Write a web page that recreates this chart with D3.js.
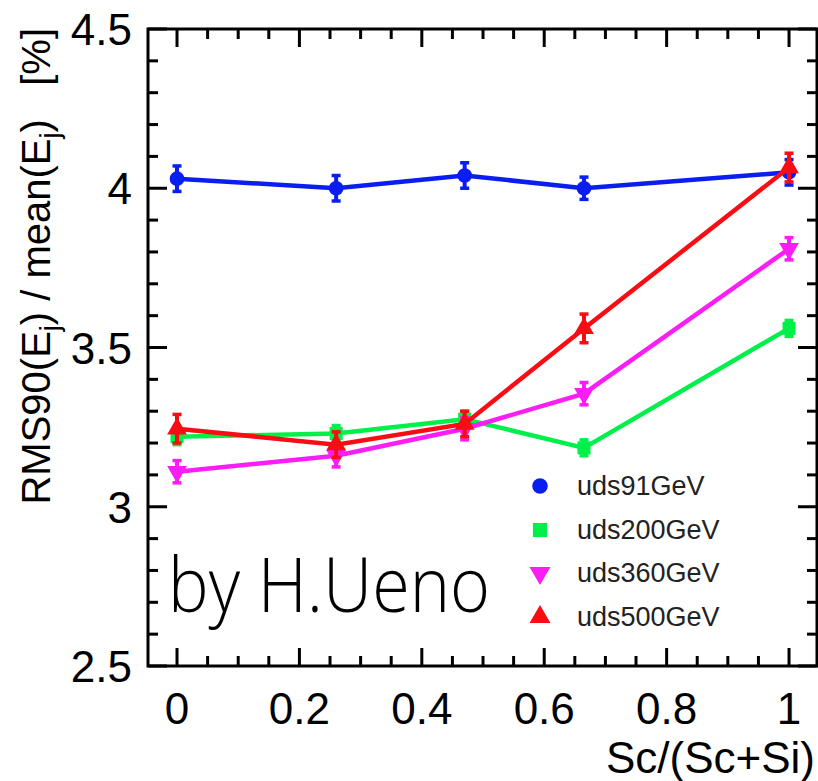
<!DOCTYPE html>
<html><head><meta charset="utf-8">
<script src="https://cdn.jsdelivr.net/npm/d3@7"></script>
<style>html,body{margin:0;padding:0;background:#fff;}svg{display:block;}</style>
</head><body>
<svg id="c" width="818" height="781"></svg>
<script>
const xValues = [0, 0.26, 0.47, 0.665, 1];
const seriesNames = ["uds91GeV", "uds200GeV", "uds360GeV", "uds500GeV"];
const blueValues = [4.03, 4.00, 4.04, 4.00, 4.05];
const blueErrors = [0.04, 0.04, 0.04, 0.035, 0.04];
const greenValues = [3.22, 3.23, 3.275, 3.185, 3.56];
const greenErrors = [0.025, 0.025, 0.025, 0.025, 0.025];
const magentaValues = [3.11, 3.16, 3.245, 3.355, 3.81];
const magentaErrors = [0.035, 0.035, 0.035, 0.035, 0.035];
const redValues = [3.245, 3.195, 3.26, 3.56, 4.065];
const redErrors = [0.045, 0.04, 0.04, 0.045, 0.045];
const xTickLabels = ["0", "0.2", "0.4", "0.6", "0.8", "1"];
const yTickLabels = ["2.5", "3", "3.5", "4", "4.5"];

const colors = ["#0a1ef0", "#00f04a", "#fa1ef5", "#f80d14"];
const symbols = [d3.symbolCircle, d3.symbolSquare, "down", d3.symbolTriangle];
const series = [
  {name: seriesNames[0], v: blueValues, e: blueErrors},
  {name: seriesNames[1], v: greenValues, e: greenErrors},
  {name: seriesNames[2], v: magentaValues, e: magentaErrors},
  {name: seriesNames[3], v: redValues, e: redErrors}
];

const L = 148, R = 817, T = 29, B = 666;
const x = d3.scaleLinear().domain([-0.0474, 1.0457]).range([L, R]);
const y = d3.scaleLinear().domain([2.5, 4.5]).range([B, T]);
const svg = d3.select("#c");
const FONT = "'Liberation Sans', Arial, Helvetica, sans-serif";

// ticks
const xMajor = xTickLabels.map(Number);
const xMinor = d3.range(0, 21).map(i => i * 0.05).filter(v => !xMajor.some(m => Math.abs(m - v) < 1e-9));
const yMajor = yTickLabels.map(Number);
const yMinor = d3.range(25, 46).map(i => i / 10).filter(v => !yMajor.some(m => Math.abs(m - v) < 1e-9));
const tk = svg.append("g").attr("stroke", "#000").attr("stroke-width", 3);
function xt(vals, len) {
  vals.forEach(v => {
    tk.append("line").attr("x1", x(v)).attr("x2", x(v)).attr("y1", B).attr("y2", B - len);
    tk.append("line").attr("x1", x(v)).attr("x2", x(v)).attr("y1", T).attr("y2", T + len);
  });
}
function yt(vals, len) {
  vals.forEach(v => {
    tk.append("line").attr("y1", y(v)).attr("y2", y(v)).attr("x1", L).attr("x2", L + len);
    tk.append("line").attr("y1", y(v)).attr("y2", y(v)).attr("x1", R).attr("x2", R - len);
  });
}
xt(xMajor, 18); xt(xMinor, 10); yt(yMajor, 19); yt(yMinor, 10);
svg.append("rect").attr("x", L).attr("y", T).attr("width", R - L).attr("height", B - T)
  .attr("fill", "none").attr("stroke", "#000").attr("stroke-width", 3);

// tick labels
svg.append("g").selectAll("text").data(xTickLabels).join("text")
  .attr("x", d => x(+d)).attr("y", B + 58).attr("text-anchor", "middle")
  .attr("font-family", FONT).attr("font-size", 44).text(d => d);
svg.append("g").selectAll("text").data(yTickLabels).join("text")
  .attr("x", 132).attr("y", d => y(+d) + 16).attr("text-anchor", "end")
  .attr("font-family", FONT).attr("font-size", 44).text(d => d);

// axis titles
svg.append("text").attr("x", 815).attr("y", 773).attr("text-anchor", "end")
  .attr("font-family", FONT).attr("font-size", 44).text("Sc/(Sc+Si)");
const yt1 = svg.append("text").attr("transform", "translate(50,28) rotate(-90)")
  .attr("text-anchor", "end").attr("font-family", FONT).attr("font-size", 40);
yt1.append("tspan").text("RMS90(E");
yt1.append("tspan").attr("dy", 9).attr("font-size", 27).text("j");
yt1.append("tspan").attr("dy", -9).text(") / mean(E");
yt1.append("tspan").attr("dy", 9).attr("font-size", 27).text("j");
yt1.append("tspan").attr("dy", -9).attr("xml:space", "preserve").text(")   [%]");

// series
function sym(s, size) {
  if (s === "down") return d3.symbol(d3.symbolTriangle, size)();
  return d3.symbol(s, size)();
}
series.forEach((s, i) => {
  const g = svg.append("g");
  const pts = xValues.map((xv, j) => ({x: xv, v: s.v[j], e: s.e[j]}));
  g.append("path").datum(pts)
    .attr("d", d3.line().x(d => x(d.x)).y(d => y(d.v)))
    .attr("fill", "none").attr("stroke", colors[i]).attr("stroke-width", 4.5);
  pts.forEach(d => {
    g.append("line").attr("x1", x(d.x)).attr("x2", x(d.x))
      .attr("y1", y(d.v - d.e)).attr("y2", y(d.v + d.e))
      .attr("stroke", colors[i]).attr("stroke-width", 4);
    [d.v - d.e, d.v + d.e].forEach(cv => {
      g.append("line").attr("x1", x(d.x) - 4.5).attr("x2", x(d.x) + 4.5)
        .attr("y1", y(cv)).attr("y2", y(cv))
        .attr("stroke", colors[i]).attr("stroke-width", 3.5);
    });
    g.append("path").attr("d", sym(symbols[i], 170))
      .attr("transform", `translate(${x(d.x)},${y(d.v)})` + (symbols[i] === "down" ? " rotate(180)" : ""))
      .attr("fill", colors[i]);
  });
});

// legend
const legY = [486, 530, 573, 617];
series.forEach((s, i) => {
  svg.append("path").attr("d", sym(symbols[i], i === 1 ? 200 : 190))
    .attr("transform", `translate(540,${legY[i]})` + (symbols[i] === "down" ? " rotate(180)" : ""))
    .attr("fill", colors[i]);
  svg.append("text").attr("x", 577).attr("y", legY[i] + 9)
    .attr("font-family", FONT).attr("font-size", 27).attr("fill", "#222").text(s.name);
});

// annotation
svg.append("text").attr("x", 168).attr("y", 612)
  .attr("font-family", "'Open Sans', 'Noto Sans', sans-serif").attr("font-size", 76)
  .attr("font-weight", 300)
  .attr("textLength", 322).attr("lengthAdjust", "spacingAndGlyphs")
  .attr("fill", "#000").text("by H.Ueno");
</script>
</body></html>
